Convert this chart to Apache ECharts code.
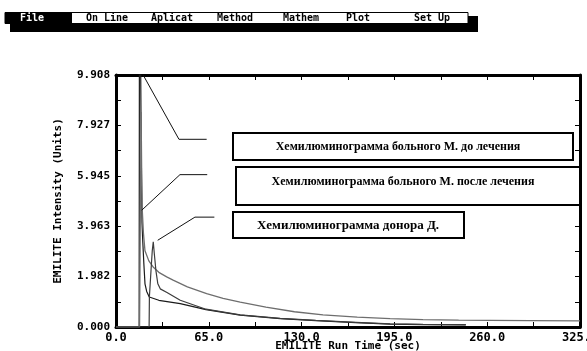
<!DOCTYPE html>
<html>
<head>
<meta charset="utf-8">
<script src="https://cdn.jsdelivr.net/npm/echarts@6/dist/echarts.min.js"></script>
<style>
  html, body { margin: 0; padding: 0; background: #fff; }
  #chart { width: 587px; height: 351px; }
</style>
</head>
<body>
<div id="chart"></div>
<script>
var myChart = echarts.init(document.getElementById('chart'));

// menu bar of the instrument program
var menuItems = ['File', 'On Line', 'Aplicat', 'Method', 'Mathem', 'Plot', 'Set Up'];
var menuCenters = [32, 107, 172, 235, 301, 358, 432];

// axes
var xMax = 325, xStep = 65;
var yMax = 9.908, yStep = 1.9816;
var yTickLabels = ['0.000', '1.982', '3.963', '5.945', '7.927', '9.908'];

// curve names (labels in boxes)
var names = [
    'Хемилюминограмма больного М. до лечения',
    'Хемилюминограмма больного М. после лечения',
    'Хемилюминограмма донора Д.'
];

// before treatment: tall spike off the scale, fast drop, low tail
var beforeData = [
    [0, 0], [16.2, 0], [16.4, 11.5], [17.2, 11], [17.6, 7.5], [18.2, 4.1], [18.8, 3.3],
    [19.5, 2.5], [20.3, 1.7], [21.5, 1.4], [23.3, 1.18], [30, 1.05], [45, 0.92],
    [63, 0.68], [87, 0.47], [115, 0.33], [140, 0.25], [168, 0.17], [192, 0.11],
    [215, 0.09], [245, 0.08]
];

// after treatment: grey spike, slow long tail
var afterData = [
    [0, 0], [16.5, 0], [17.0, 4.0], [17.6, 8.45], [18.0, 6.0], [18.4, 4.6], [19.2, 3.7],
    [20.3, 3.0], [23, 2.6], [26, 2.36], [30, 2.15], [35.5, 1.97], [40, 1.84],
    [50, 1.58], [63.5, 1.31], [75, 1.13], [87, 0.98], [105, 0.78], [125, 0.6],
    [145, 0.48], [169, 0.39], [192, 0.33], [215, 0.29], [240, 0.27], [262, 0.26],
    [290, 0.25], [325, 0.24]
];

// donor
var donorData = [
    [0, 0], [23.2, 0], [23.4, 1.2], [24.5, 2.2], [25.4, 3.0], [26.1, 3.35], [26.8, 2.9],
    [28, 2.2], [29.3, 1.7], [31, 1.5], [35.7, 1.36], [45, 1.05], [63, 0.7],
    [87, 0.48], [115, 0.34], [140, 0.26], [168, 0.18], [192, 0.12], [215, 0.1],
    [245, 0.09]
];

// leader lines from curves to the label boxes (data coordinates)
var leader1 = [[19.1, 9.9], [44.1, 7.38], [63.5, 7.38]];
var leader2 = [[18.0, 4.59], [44.8, 5.99], [63.9, 5.99]];
var leader3 = [[29.2, 3.41], [55.3, 4.32], [68.9, 4.32]];

var monoFont = '"DejaVu Sans Mono", monospace';

function curve(name, data, color, width) {
    return {
        name: name,
        type: 'line',
        data: data,
        symbol: 'none',
        silent: true,
        clip: true,
        lineStyle: { color: color, width: width },
        z: 3
    };
}

function leader(data) {
    return {
        type: 'line',
        data: data,
        symbol: 'none',
        silent: true,
        clip: false,
        lineStyle: { color: '#111', width: 1 },
        z: 4
    };
}

var graphics = [
    // menu shadow
    { type: 'rect', shape: { x: 10, y: 16, width: 468, height: 16 }, style: { fill: '#000' }, z: 10 },
    { type: 'rect', shape: { x: 5, y: 12.5, width: 463, height: 11 }, style: { fill: '#fff', stroke: '#000', lineWidth: 1 }, z: 11 },
    { type: 'rect', shape: { x: 5, y: 12.5, width: 67, height: 11 }, style: { fill: '#000' }, z: 12 }
];
menuItems.forEach(function (m, i) {
    graphics.push({
        type: 'text', x: menuCenters[i], y: 18.5, z: 13,
        style: {
            text: m, fill: i === 0 ? '#fff' : '#000',
            font: 'bold 10px ' + monoFont, textAlign: 'center', textVerticalAlign: 'middle'
        }
    });
});

// label boxes
var boxes = [
    { x: 233, y: 133, w: 340, h: 27, cx: 398, cy: 147, size: 12 },
    { x: 236, y: 167, w: 344, h: 38, cx: 403, cy: 182, size: 12 },
    { x: 233, y: 212, w: 231, h: 26, cx: 348, cy: 226, size: 13 }
];
boxes.forEach(function (b, i) {
    graphics.push({
        type: 'rect', z: 20,
        shape: { x: b.x, y: b.y, width: b.w, height: b.h },
        style: { fill: '#fff', stroke: '#000', lineWidth: 2 }
    });
    graphics.push({
        type: 'text', x: b.cx, y: b.cy, z: 21,
        style: {
            text: names[i], fill: '#000',
            font: 'bold ' + b.size + 'px "Liberation Serif", "Times New Roman", serif',
            textAlign: 'center', textVerticalAlign: 'middle'
        }
    });
});

var axisLine = { show: true, onZero: false, lineStyle: { color: '#000', width: 3 } };
var tick = { show: true, inside: true, length: 5, lineStyle: { color: '#000', width: 1 } };
var minor = { show: true, splitNumber: 2, length: 5, lineStyle: { color: '#000', width: 1 } };

var option = {
    animation: false,
    backgroundColor: '#fff',
    grid: { left: 116, right: 7, top: 75, bottom: 24, containLabel: false, outerBoundsMode: 'none' },
    xAxis: [{
        type: 'value', min: 0, max: xMax, interval: xStep, position: 'bottom',
        name: 'EMILITE Run Time (sec)', nameLocation: 'middle', nameGap: 14, nameMoveOverlap: false,
        nameTextStyle: { fontFamily: monoFont, fontWeight: 'bold', fontSize: 11, color: '#000' },
        axisLine: axisLine, axisTick: tick, minorTick: minor,
        splitLine: { show: false },
        axisLabel: {
            margin: 5, color: '#000', fontFamily: monoFont, fontWeight: 'bold', fontSize: 12,
            formatter: function (v) { return v.toFixed(1); }
        }
    }, {
        type: 'value', min: 0, max: xMax, interval: xStep, position: 'top',
        axisLine: axisLine, axisTick: tick, minorTick: minor,
        splitLine: { show: false }, axisLabel: { show: false }
    }],
    yAxis: [{
        type: 'value', min: 0, max: yMax, interval: yStep, position: 'left',
        name: 'EMILITE Intensity (Units)', nameLocation: 'middle', nameGap: 52, nameRotate: 90,
        nameMoveOverlap: false,
        nameTextStyle: { fontFamily: monoFont, fontWeight: 'bold', fontSize: 11, color: '#000' },
        axisLine: axisLine, axisTick: tick, minorTick: minor,
        splitLine: { show: false },
        axisLabel: {
            margin: 6, color: '#000', fontFamily: monoFont, fontWeight: 'bold', fontSize: 11,
            formatter: function (v) { return yTickLabels[Math.round(v / yStep)]; }
        }
    }, {
        type: 'value', min: 0, max: yMax, interval: yStep, position: 'right',
        axisLine: axisLine, axisTick: tick, minorTick: minor,
        splitLine: { show: false }, axisLabel: { show: false }
    }],
    series: [
        curve(names[0], beforeData, '#1a1a1a', 1.2),
        curve(names[1], afterData, '#6e6e6e', 1.3),
        curve(names[2], donorData, '#3c3c3c', 1.2),
        leader(leader1),
        leader(leader2),
        leader(leader3)
    ],
    graphic: graphics
};

myChart.setOption(option);
</script>
</body>
</html>
